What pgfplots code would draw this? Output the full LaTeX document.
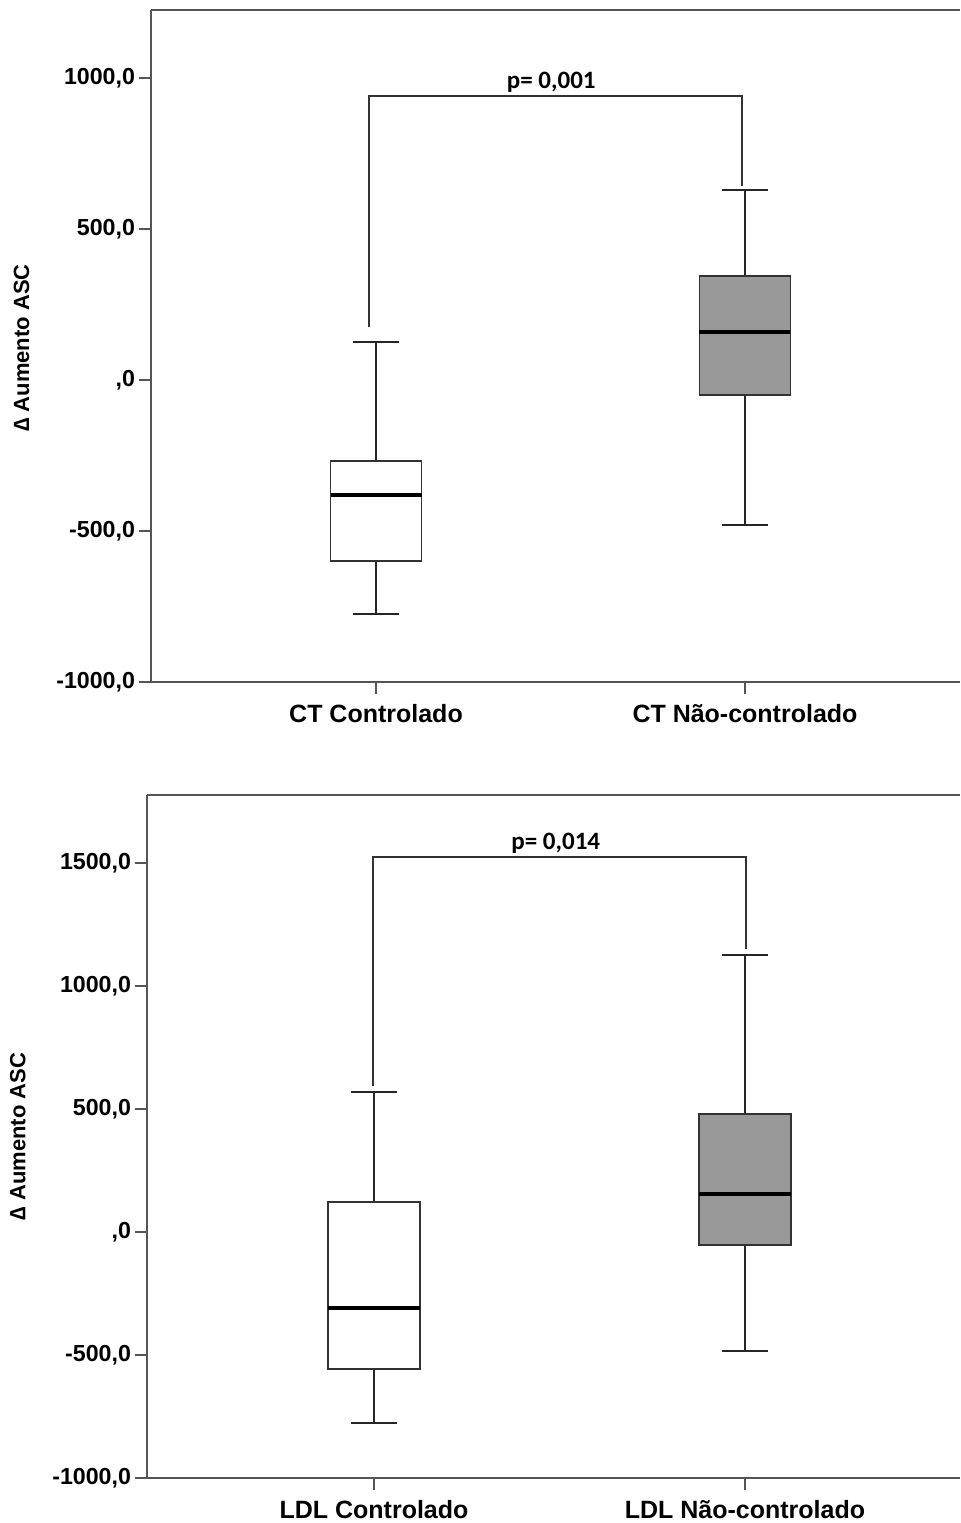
\documentclass[border=0pt]{standalone}
\usepackage{pgfplots}
\pgfplotsset{compat=1.18}
\usepackage{fontspec}
\setmainfont{Liberation Sans}
\newfontfamily\pfont{Carlito}
\definecolor{axgray}{HTML}{555555}
\definecolor{boxgray}{HTML}{999999}
\definecolor{boxedge}{HTML}{333333}
\begin{document}
\begin{tikzpicture}
\path[use as bounding box] (0,0) rectangle (480pt,-761.5pt);
\pgfplotsset{
  spss/.style={
    scale only axis,
    axis x line*=bottom, axis y line*=left,
    axis line style={axgray, line width=0.9pt},
    tick style={axgray, line width=0.7pt},
    major tick length=6pt,
    tick align=outside,
    xtick={1,2},
    yticklabel style={font=\bfseries\fontsize{11.6}{13}\selectfont, inner sep=1pt, xshift=-0.8pt},
    xticklabel style={font=\bfseries\fontsize{12.5}{15}\selectfont, inner sep=1pt, yshift=-4pt},
    ylabel style={font=\bfseries\fontsize{11}{13}\selectfont, anchor=center},
  },
  bx/.style={draw=boxedge, line width=0.8pt, mark=none},
  wh/.style={black!85, line width=0.85pt, mark=none},
  md/.style={black, line width=1.6pt, mark=none},
}
% ---------------- top panel ----------------
\begin{axis}[spss, name=top,
  at={(75.5pt,-5pt)}, anchor=north west,
  width=404.5pt, height=336pt,
  xmin=0.3902, xmax=2.5827,
  ymin=-1000, ymax=1225,
  ytick={-1000,-500,0,500,1000},
  yticklabels={{-1000,0},{-500,0},{,0},{500,0},{1000,0}},
  xticklabels={CT Controlado, CT Não-controlado},
  ylabel={∆ Aumento ASC},
  ylabel style={at={(axis description cs:-0.16,0.497)}},
]
% CT Controlado: lw -775, q1 -599, med -381, q3 -268, uw 126
\addplot[wh] coordinates {(1,-268) (1,126)};
\addplot[wh] coordinates {(1,-599) (1,-775)};
\addplot[wh] coordinates {(0.9383,126) (1.0617,126)};
\addplot[wh] coordinates {(0.9383,-775) (1.0617,-775)};
\addplot[bx, fill=white] coordinates {(0.8767,-599) (1.1233,-599) (1.1233,-268) (0.8767,-268)} -- cycle;
\addplot[md] coordinates {(0.8767,-381) (1.1233,-381)};
% CT Nao-controlado: lw -480, q1 -50, med 159, q3 344, uw 629
\addplot[wh] coordinates {(2,344) (2,629)};
\addplot[wh] coordinates {(2,-50) (2,-480)};
\addplot[wh] coordinates {(1.9383,629) (2.0617,629)};
\addplot[wh] coordinates {(1.9383,-480) (2.0617,-480)};
\addplot[bx, fill=boxgray] coordinates {(1.8767,-50) (2.1233,-50) (2.1233,344) (1.8767,344)} -- cycle;
\addplot[md] coordinates {(1.8767,159) (2.1233,159)};
% bracket
\addplot[black!80, line width=0.75pt, mark=none] coordinates {(0.981,175) (0.981,940) (1.992,940) (1.992,642)};
\node[font=\pfont\bfseries\fontsize{12.5}{14}\selectfont, anchor=base] at (axis cs:1.475,965) {p= 0,001};
\end{axis}
\draw[axgray, line width=0.9pt] (top.north west) -- (top.north east);
% ---------------- bottom panel ----------------
\begin{axis}[spss, name=bot,
  at={(73.5pt,-397.5pt)}, anchor=north west,
  width=406.5pt, height=341.5pt,
  xmin=0.3881, xmax=2.5795,
  ymin=-1000, ymax=1776,
  ytick={-1000,-500,0,500,1000,1500},
  yticklabels={{-1000,0},{-500,0},{,0},{500,0},{1000,0},{1500,0}},
  xticklabels={LDL Controlado, LDL Não-controlado},
  ylabel={∆ Aumento ASC},
  ylabel style={at={(axis description cs:-0.159,0.5)}},
]
% LDL Controlado: lw -776, q1 -557, med -309, q3 122, uw 569
\addplot[wh] coordinates {(1,122) (1,569)};
\addplot[wh] coordinates {(1,-557) (1,-776)};
\addplot[wh] coordinates {(0.9383,569) (1.0617,569)};
\addplot[wh] coordinates {(0.9383,-776) (1.0617,-776)};
\addplot[bx, fill=white] coordinates {(0.8767,-557) (1.1233,-557) (1.1233,122) (0.8767,122)} -- cycle;
\addplot[md] coordinates {(0.8767,-309) (1.1233,-309)};
% LDL Nao-controlado: lw -484, q1 -53, med 154, q3 480, uw 1126
\addplot[wh] coordinates {(2,480) (2,1126)};
\addplot[wh] coordinates {(2,-53) (2,-484)};
\addplot[wh] coordinates {(1.9383,1126) (2.0617,1126)};
\addplot[wh] coordinates {(1.9383,-484) (2.0617,-484)};
\addplot[bx, fill=boxgray] coordinates {(1.8767,-53) (2.1233,-53) (2.1233,480) (1.8767,480)} -- cycle;
\addplot[md] coordinates {(1.8767,154) (2.1233,154)};
% bracket
\addplot[black!80, line width=0.75pt, mark=none] coordinates {(0.997,593) (0.997,1524) (2.003,1524) (2.003,1150)};
\node[font=\pfont\bfseries\fontsize{12.5}{14}\selectfont, anchor=base] at (axis cs:1.49,1556) {p= 0,014};
\end{axis}
\draw[axgray, line width=0.9pt] (bot.north west) -- (bot.north east);
\end{tikzpicture}
\end{document}
